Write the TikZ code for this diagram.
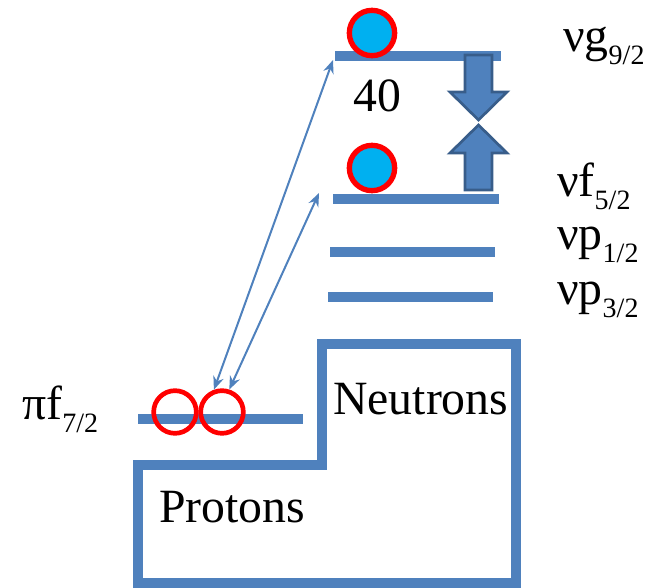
\documentclass[tikz,border=0pt]{standalone}
\usepackage{xcolor}
\usepackage{fontspec}
\setmainfont{Liberation Serif}
\usetikzlibrary{
    arrows.meta
}

\definecolor{levelblue}{HTML}{4F81BD}
\definecolor{edgeblue}{HTML}{385D8A}
\definecolor{particlecyan}{HTML}{00B0F0}

\newcommand{\lsub}[1]{\raisebox{-0.26em}{\fontsize{21}{21}\selectfont #1}}

\begin{document}
\begin{tikzpicture}[
    x=0.75pt,
    y=-0.75pt,
    font=\fontsize{35.8}{40}\selectfont,
    level/.style={
        draw=levelblue,
        line width=8pt
    },
    wall/.style={
        draw=levelblue,
        line width=8pt,
        miter limit=4
    },
    particle/.style={
        circle,
        draw=red,
        line width=4pt,
        fill=particlecyan,
        inner sep=0pt,
        minimum size=34pt
    },
    hole/.style={
        circle,
        draw=red,
        line width=3.5pt,
        inner sep=0pt,
        minimum size=32pt
    },
    jump/.style={
        {Stealth[length=10pt,width=8pt]}-{Stealth[length=10pt,width=8pt]},
        draw=levelblue,
        line width=1.5pt
    },
    gaparrow/.style={
        fill=levelblue,
        draw=edgeblue,
        line width=2pt
    },
    lab/.style={
        anchor=base west,
        inner sep=0pt
    }
]
\useasboundingbox (0,0) rectangle (665,588);

% =========================================================
% Proton and neutron wells
% =========================================================
\draw[wall] (322,465) -- (322,344) -- (516,344) -- (516,583)
    -- (138,583) -- (138,465) -- cycle;

\node[lab] (neutrons) at (333,415) {Neutrons};
\node[lab] (protons) at (159,522) {Protons};

% =========================================================
% Neutron levels
% =========================================================
\coordinate (g9a) at (335,56);  \coordinate (g9b) at (501,56);
\coordinate (f5a) at (333,199); \coordinate (f5b) at (499,199);
\coordinate (p1a) at (330,252); \coordinate (p1b) at (495,252);
\coordinate (p3a) at (328,297); \coordinate (p3b) at (493,297);

\draw[level] (g9a) -- (g9b);
\draw[level] (f5a) -- (f5b);
\draw[level] (p1a) -- (p1b);
\draw[level] (p3a) -- (p3b);

\node[lab] (g9lab) at (563,52) {νg\lsub{9/2}};
\node[lab] (f5lab) at (557,197) {νf\lsub{5/2}};
\node[lab] (p1lab) at (557,250) {νp\lsub{1/2}};
\node[lab] (p3lab) at (557,305) {νp\lsub{3/2}};

% =========================================================
% Proton level
% =========================================================
\coordinate (pfa) at (138,419); \coordinate (pfb) at (303,419);
\draw[level] (pfa) -- (pfb);

\node[lab] (pflab) at (22,420) {πf\lsub{7/2}};

% =========================================================
% Particles and holes
% =========================================================
\node[particle] (ng) at (372,33) {};
\node[particle] (nf) at (372,168) {};

\node[hole] (h1) at (175,412) {};
\node[hole] (h2) at (222,412) {};

% =========================================================
% Gap arrows
% =========================================================
\draw[gaparrow] (465,55) -- (492,55) -- (492,92) -- (507,92)
    -- (478.5,120) -- (450,92) -- (465,92) -- cycle;
\draw[gaparrow] (478.5,125) -- (507,153) -- (492,153) -- (492,190)
    -- (465,190) -- (465,153) -- (450,153) -- cycle;

\node[lab] (gap) at (353,112) {40};

% =========================================================
% Excitations
% =========================================================
\coordinate (gtip) at (333,60);
\coordinate (ftip) at (319,193);

\draw[jump] (gtip) -- (h2.110);
\draw[jump] (ftip) -- (h2.72);

\end{tikzpicture}
\end{document}
